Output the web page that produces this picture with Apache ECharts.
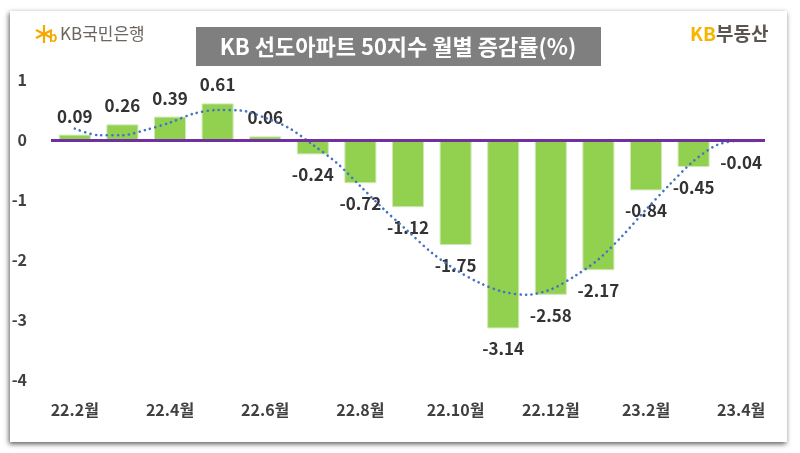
<!DOCTYPE html>
<html><head><meta charset="utf-8">
<script src="https://cdn.jsdelivr.net/npm/echarts@6/dist/echarts.min.js"></script>
<style>
html,body{margin:0;padding:0;background:#fff;}
#wrap{position:relative;width:800px;height:453px;background:#fff;overflow:hidden;}
#card{position:absolute;left:10px;top:11px;width:777px;height:431px;background:#fff;box-shadow:-1px 2px 5px rgba(0,0,0,0.65);}
#chart{position:absolute;left:0;top:0;width:800px;height:453px;}
</style></head>
<body>
<div id="wrap"><div id="card"></div><div id="chart"></div></div>
<script>
const categories = ['22.2월','22.3월','22.4월','22.5월','22.6월','22.7월','22.8월','22.9월','22.10월','22.11월','22.12월','23.1월','23.2월','23.3월','23.4월'];
const changeRates = [0.09, 0.26, 0.39, 0.61, 0.06, -0.24, -0.72, -1.12, -1.75, -3.14, -2.58, -2.17, -0.84, -0.45, -0.04];
// trend line (Excel polynomial trendline) at half-month steps (index into categories)
const trendPositions = [0, 0.5, 1, 1.5, 2, 2.5, 3, 3.5, 4, 4.5, 5, 5.5, 6, 6.5, 7, 7.5, 8, 8.5, 9, 9.5, 10, 10.5, 11, 11.5, 12, 12.5, 13, 13.5, 14];
const trendValues = [0.19, 0.08, 0.08, 0.17, 0.29, 0.44, 0.5, 0.49, 0.37, 0.2, -0.08, -0.38, -0.77, -1.16, -1.52, -1.88, -2.16, -2.38, -2.53, -2.58, -2.49, -2.27, -1.99, -1.6, -1.16, -0.74, -0.35, -0.08, 0.0];
const yTicks = [1, 0, -1, -2, -3, -4];
const titleText = 'KB 선도아파트 50지수 월별 증감률(%)';

const FONT = '"Noto Sans CJK KR", "Noto Sans", sans-serif';
const chart = echarts.init(document.getElementById('chart'), null, {renderer:'canvas'});

const barData = changeRates.map(v => ({
  value: v,
  label: { position: v >= 0 ? 'top' : 'bottom', distance: v >= 0 ? 10 : 12 }
}));
const trendData = trendPositions.map((p, i) => [p, trendValues[i]]);

chart.setOption({
  backgroundColor: 'transparent',
  animation: false,
  grid: { left: 51, right: 35, top: 80, bottom: 73, containLabel: false },
  xAxis: [{
    type: 'category',
    data: categories,
    axisLine: { show: false, onZero: false },
    axisTick: { show: false },
    axisLabel: {
      interval: 1, margin: 22,
      fontFamily: FONT, fontSize: 16, fontWeight: 'bold', color: '#404040'
    },
    splitLine: { show: false }
  }, {
    type: 'value',
    min: -0.5, max: 14.5,
    show: false,
    splitLine: { show: false }
  }],
  yAxis: {
    type: 'value',
    min: -4, max: 1, interval: 1,
    axisLine: { show: false },
    axisTick: { show: false },
    splitLine: { show: false },
    axisLabel: {
      margin: 24,
      fontFamily: FONT, fontSize: 16, fontWeight: 'bold', color: '#404040',
      formatter: v => yTicks.includes(v) ? String(v) : ''
    }
  },
  series: [
    {
      type: 'bar',
      data: barData,
      barWidth: 32,
      z: 2,
      itemStyle: { color: '#92d050', borderColor: '#cfe9b3', borderWidth: 1 },
      label: {
        show: true,
        fontFamily: FONT, fontSize: 17, fontWeight: 'bold', color: '#333333',
        formatter: p => p.value.toFixed(2)
      },
      markLine: {
        silent: true,
        symbol: ['none', 'none'],
        label: { show: false },
        lineStyle: { color: '#7030a0', width: 3, type: 'solid' },
        data: [{ yAxis: 0 }]
      }
    },
    {
      type: 'line',
      xAxisIndex: 1,
      data: trendData,
      smooth: 0.3,
      symbol: 'none',
      z: 4,
      lineStyle: { color: '#4472c4', width: 2.6, type: [0.1, 5.4], cap: 'round' }
    }
  ],
  graphic: [
    { type: 'rect', shape: { x: 196, y: 27, width: 405, height: 39 }, style: { fill: '#7f7f7f' } },
    { type: 'text', x: 398, y: 47, style: { text: titleText, fill: '#ffffff', font: 'bold 22px ' + FONT, textAlign: 'center', textVerticalAlign: 'middle' } },
    // KB국민은행 logo
    { type: 'line', shape: { x1: 44, y1: 25, x2: 44, y2: 43 }, style: { stroke: '#f5a800', lineWidth: 2.2 } },
    { type: 'line', shape: { x1: 36, y1: 30, x2: 52, y2: 38 }, style: { stroke: '#f5a800', lineWidth: 2.2 } },
    { type: 'line', shape: { x1: 36, y1: 38, x2: 52, y2: 30 }, style: { stroke: '#f5a800', lineWidth: 2.2 } },
    { type: 'text', x: 49, y: 37, style: { text: 'b', fill: '#f5a800', font: 'bold 13px ' + FONT, textVerticalAlign: 'middle' } },
    { type: 'text', x: 60, y: 34, style: { text: 'KB국민은행', fill: '#6b6560', font: '17px ' + FONT, textVerticalAlign: 'middle' } },
    // KB부동산 logo
    { type: 'text', x: 690, y: 34, style: { text: 'KB', fill: '#f7b500', font: 'bold 19px ' + FONT, textVerticalAlign: 'middle' } },
    { type: 'text', x: 716, y: 34, style: { text: '부동산', fill: '#5a5550', font: 'bold 19px ' + FONT, textVerticalAlign: 'middle' } }
  ]
});
</script>
</body></html>
